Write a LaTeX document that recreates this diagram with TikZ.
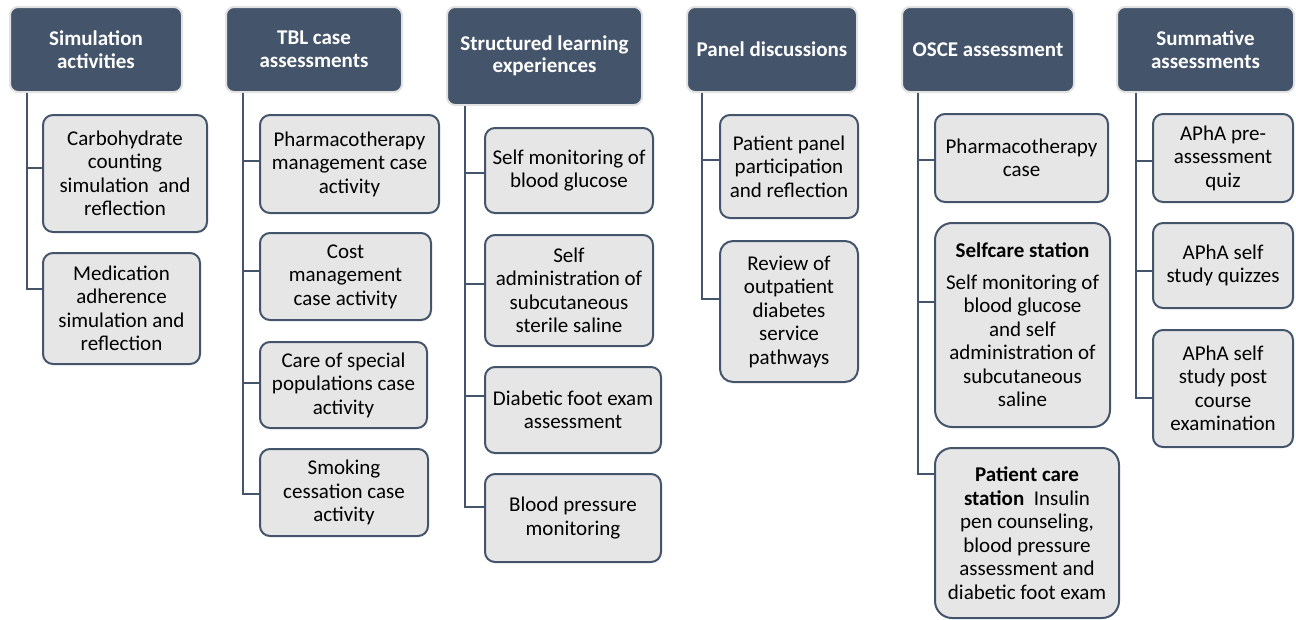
\documentclass[tikz,border=0pt]{standalone}
\usepackage{fontspec}
\setmainfont{Carlito}
\definecolor{slate}{HTML}{44546A}
\definecolor{boxfill}{HTML}{E7E6E6}
\definecolor{rim}{HTML}{E2E2E2}
\tikzset{
  head/.style={draw=rim, line width=2pt, fill=slate, rounded corners=8pt,
    text=white, font=\fontsize{21}{22.5}\selectfont\bfseries, align=center, inner sep=0pt},
  item/.style={draw=slate, line width=2pt, fill=boxfill, rounded corners=10pt,
    font=\fontsize{21}{23.5}\selectfont, align=center, inner sep=0pt},
  link/.style={draw=slate, line width=2.5pt},
}
\begin{document}
\begin{tikzpicture}[x=1pt,y=-1pt]
\useasboundingbox (0,0) rectangle (1296,619);

% ---- column headers
\node[head, minimum width=172pt, minimum height=85pt] (h1) at (96,49.5) {Simulation\\activities};
\node[head, minimum width=176pt, minimum height=85pt] (h2) at (314,49.5) {TBL case\\assessments};
\node[head, minimum width=195pt, minimum height=98pt] (h3) at (544.5,56) {Structured learning\\experiences};
\node[head, minimum width=170pt, minimum height=85pt] (h4) at (772,49.5) {Panel discussions};
\node[head, minimum width=172pt, minimum height=85pt] (h5) at (988,49.5) {OSCE assessment};
\node[head, minimum width=177pt, minimum height=85pt] (h6) at (1205.5,49.5) {Summative\\assessments};

% ---- Simulation activities
\node[item, minimum width=164pt, minimum height=117pt] (c11) at (125,173.5) {Carbohydrate\\counting\\simulation\ \ and\\reflection};
\node[item, minimum width=157pt, minimum height=111pt] (c12) at (121.5,308.5) {Medication\\adherence\\simulation and\\reflection};

% ---- TBL case assessments
\node[item, minimum width=179pt, minimum height=98pt] (c21) at (349.5,164) {Pharmacotherapy\\management case\\activity};
\node[item, minimum width=171pt, minimum height=87pt] (c22) at (345.5,276.5) {Cost\\management\\case activity};
\node[item, minimum width=167pt, minimum height=86pt] (c23) at (343.5,385) {Care of special\\populations case\\activity};
\node[item, minimum width=168pt, minimum height=87pt] (c24) at (344,492.5) {Smoking\\cessation case\\activity};

% ---- Structured learning experiences
\node[item, minimum width=168pt, minimum height=85pt] (c31) at (569,170.5) {Self monitoring of\\blood glucose};
\node[item, minimum width=168pt, minimum height=111pt] (c32) at (569,290.5) {Self\\administration of\\subcutaneous\\sterile saline};
\node[item, minimum width=176pt, minimum height=86pt] (c33) at (573,410) {Diabetic foot exam\\assessment};
\node[item, minimum width=176pt, minimum height=88pt] (c34) at (573,518) {Blood pressure\\monitoring};

% ---- Panel discussions
\node[item, minimum width=138pt, minimum height=103pt] (c41) at (789,166.5) {Patient panel\\participation\\and reflection};
\node[item, minimum width=138pt, minimum height=141pt, rounded corners=13pt] (c42) at (789,311.5) {Review of\\outpatient\\diabetes\\service\\pathways};

% ---- OSCE assessment
\node[item, minimum width=173pt, minimum height=88pt] (c51) at (1021.5,158) {Pharmacotherapy\\case};
\node[item, minimum width=175pt, minimum height=204pt, rounded corners=17pt] (c52) at (1022.5,325)
  {\textbf{Selfcare station}\\[8pt]Self monitoring of\\blood glucose\\and self\\administration of\\subcutaneous\\saline};
\node[item, minimum width=184pt, minimum height=170pt, rounded corners=17pt] (c53) at (1027,533)
  {\textbf{Patient care}\\\textbf{station}\ \ Insulin\\pen counseling,\\blood pressure\\assessment and\\diabetic foot exam};

% ---- Summative assessments
\node[item, minimum width=140pt, minimum height=88pt] (c61) at (1223,158) {APhA pre-\\assessment\\quiz};
\node[item, minimum width=140pt, minimum height=85pt] (c62) at (1223,265.5) {APhA self\\study quizzes};
\node[item, minimum width=140pt, minimum height=117pt] (c63) at (1223,388.5) {APhA self\\study post\\course\\examination};

% ---- trunk positions and branch joints on the boxes' left edges
\coordinate (t1) at (27,0);
\coordinate (t2) at (243,0);
\coordinate (t3) at (465,0);
\coordinate (t4) at (702,0);
\coordinate (t5) at (918,0);
\coordinate (t6) at (1136,0);

\coordinate (j11) at (c11.west |- 0,168);
\coordinate (j12) at (c12.west |- 0,289);
\coordinate (j21) at (c21.west |- 0,161);
\coordinate (j22) at (c22.west |- 0,271);
\coordinate (j23) at (c23.west |- 0,383);
\coordinate (j24) at (c24.west |- 0,494);
\coordinate (j31) at (c31.west |- 0,173);
\coordinate (j32) at (c32.west |- 0,284);
\coordinate (j33) at (c33.west |- 0,396);
\coordinate (j34) at (c34.west |- 0,507);
\coordinate (j41) at (c41.west |- 0,160);
\coordinate (j42) at (c42.west |- 0,299);
\coordinate (j51) at (c51.west |- 0,160);
\coordinate (j52) at (c52.west |- 0,302);
\coordinate (j53) at (c53.west |- 0,474);
\coordinate (j61) at (c61.west |- 0,161);
\coordinate (j62) at (c62.west |- 0,271);
\coordinate (j63) at (c63.west |- 0,398);

% ---- connectors
\begin{scope}[on background layer/.style={}]
\draw[link] (h1.south -| t1) |- (j12);
\draw[link] (t1 |- j11) -- (j11);

\draw[link] (h2.south -| t2) |- (j24);
\draw[link] (t2 |- j21) -- (j21);
\draw[link] (t2 |- j22) -- (j22);
\draw[link] (t2 |- j23) -- (j23);

\draw[link] (h3.south -| t3) |- (j34);
\draw[link] (t3 |- j31) -- (j31);
\draw[link] (t3 |- j32) -- (j32);
\draw[link] (t3 |- j33) -- (j33);

\draw[link] (h4.south -| t4) |- (j42);
\draw[link] (t4 |- j41) -- (j41);

\draw[link] (h5.south -| t5) |- (j53);
\draw[link] (t5 |- j51) -- (j51);
\draw[link] (t5 |- j52) -- (j52);

\draw[link] (h6.south -| t6) |- (j63);
\draw[link] (t6 |- j61) -- (j61);
\draw[link] (t6 |- j62) -- (j62);
\end{scope}
\end{tikzpicture}
\end{document}
